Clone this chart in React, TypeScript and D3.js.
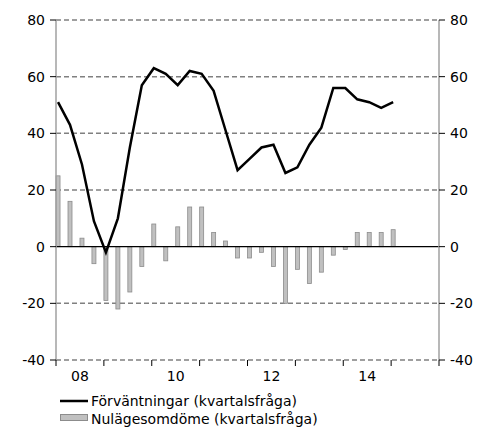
import React from "react";
import * as d3 from "d3";

const expectations = [51, 43, 29, 9, -2, 10, 35, 57, 63, 61, 57, 62, 61, 55, 41, 27, 31, 35, 36, 26, 28, 36, 42, 56, 56, 52, 51, 49, 51];
const currentSituation = [25, 16, 3, -6, -19, -22, -16, -7, 8, -5, 7, 14, 14, 5, 2, -4, -4, -2, -7, -20, -8, -13, -9, -3, -1, 5, 5, 5, 6];
const yTicks = [-40, -20, 0, 20, 40, 60, 80];
const years = [2008, 2009, 2010, 2011, 2012, 2013, 2014, 2015, 2016];
const yearLabels = ["08", "10", "12", "14"];
const legendLabels = ["Förväntningar (kvartalsfråga)", "Nulägesomdöme (kvartalsfråga)"];

export default function App() {
  const W = 489, H = 428;
  const L = 56, R = 439, T = 20, B = 360;
  const x = d3.scaleLinear().domain([2008, 2016]).range([L, R]);
  const y = d3.scaleLinear().domain([-40, 80]).range([B, T]);
  const qx = (i: number) => x(2008 + (i + 0.17) / 4);
  const line = d3.line<number>().x((_, i) => qx(i)).y((d) => y(d));
  const font = "DejaVu Sans, Verdana, sans-serif";
  const fs = 14;
  return (
    <svg width={W} height={H} style={{ position: "absolute", left: 0, top: 0 }} fontFamily={font}>
      <rect width={W} height={H} fill="#fff" />
      {yTicks.filter((t) => t !== 0).map((t) => (
        <line key={t} x1={L} x2={R} y1={y(t)} y2={y(t)} stroke="#808080" strokeWidth={1.5} strokeDasharray="5,3" />
      ))}
      {currentSituation.map((v, i) => (
        <rect key={i} x={qx(i) - 2} width={4} y={Math.min(y(v), y(0))} height={Math.abs(y(v) - y(0))} fill="#c0c0c0" stroke="#8c8c8c" strokeWidth={0.8} />
      ))}
      <line x1={L} x2={R} y1={y(0)} y2={y(0)} stroke="#000" strokeWidth={1.2} />
      <line x1={L} x2={L} y1={T} y2={B} stroke="#a0a0a0" strokeWidth={1.5} />
      <line x1={R} x2={R} y1={T} y2={B} stroke="#a0a0a0" strokeWidth={1.5} />
      {yTicks.map((t) => (
        <g key={t}>
          <line x1={L - 6} x2={L} y1={y(t)} y2={y(t)} stroke="#000" />
          <line x1={R} x2={R + 6} y1={y(t)} y2={y(t)} stroke="#000" />
          <text x={L - 11} y={y(t)} dy="0.35em" textAnchor="end" fontSize={fs}>{t}</text>
          <text x={R + 11} y={y(t)} dy="0.35em" textAnchor="start" fontSize={fs}>{t}</text>
        </g>
      ))}
      {years.map((yr) => (
        <line key={yr} x1={x(yr)} x2={x(yr)} y1={B} y2={B + 6} stroke="#000" />
      ))}
      {yearLabels.map((lab, i) => (
        <text key={lab} x={x(2008 + 2 * i + 0.5)} y={B + 21} textAnchor="middle" fontSize={fs}>{lab}</text>
      ))}
      <path d={line(expectations) || ""} fill="none" stroke="#000" strokeWidth={2.5} strokeLinejoin="miter" />
      <line x1={60} x2={88} y1={401} y2={401} stroke="#000" strokeWidth={2.5} />
      <text x={91} y={406} fontSize={fs}>{legendLabels[0]}</text>
      <rect x={60.5} y={414.5} width={27} height={6} fill="#c0c0c0" stroke="#8c8c8c" />
      <text x={91} y={424} fontSize={fs}>{legendLabels[1]}</text>
    </svg>
  );
}
